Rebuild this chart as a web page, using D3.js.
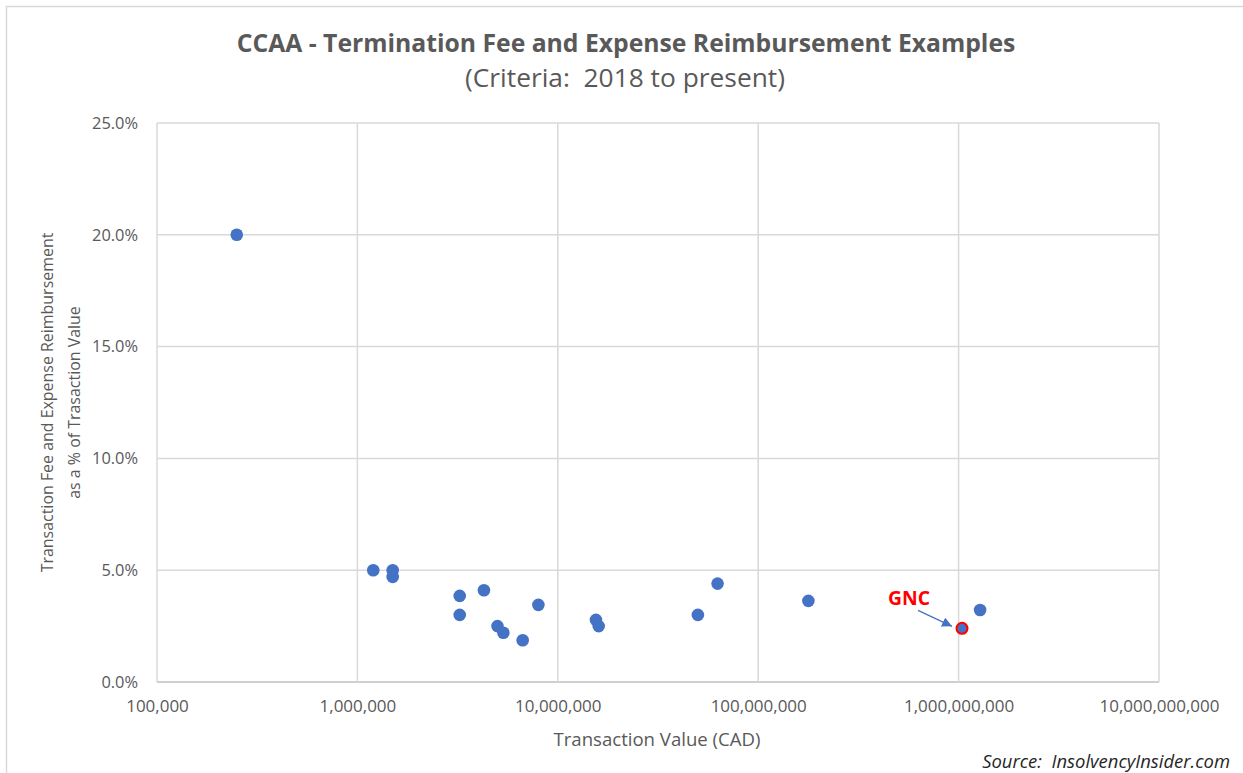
<!DOCTYPE html>
<html>
<head>
<meta charset="utf-8">
<script src="https://cdn.jsdelivr.net/npm/d3@7"></script>
<style>
  html, body { margin: 0; padding: 0; background: #ffffff; }
  svg text { font-family: "Open Sans", Lato, sans-serif; white-space: pre; }
</style>
</head>
<body>
<div id="chart"></div>
<script>
// Transaction values (CAD) and fee + expense reimbursement as % of value
var dealValues = [250000, 1200000, 1500000, 1500000, 3240000, 3240000, 4280000, 5000000, 5350000,
                  6680000, 8000000, 15500000, 16000000, 50000000, 62700000, 178000000, 1040000000, 1280000000];
var feePercents = [20.0, 5.0, 5.0, 4.7, 3.85, 3.0, 4.1, 2.5, 2.2,
                   1.87, 3.45, 2.78, 2.5, 3.0, 4.4, 3.63, 2.4, 3.22];
var dealLabels = ["", "", "", "", "", "", "", "", "", "", "", "", "", "", "", "", "GNC", ""];

var xTickValues = [1e5, 1e6, 1e7, 1e8, 1e9, 1e10];
var yTickValues = [0, 5, 10, 15, 20, 25];

var titleText = "CCAA - Termination Fee and Expense Reimbursement Examples";
var subtitleText = "(Criteria:  2018 to present)";
var xTitle = "Transaction Value (CAD)";
var yTitleLines = ["Transaction Fee and Expense Reimbursement", "as a % of Trasaction Value"];
var sourceText = "Source:  InsolvencyInsider.com";

// Margin conventions
var totalWidth = 1243, totalHeight = 773;
var margin = {top: 123, right: 84, bottom: 91, left: 157};
var width = totalWidth - margin.left - margin.right,
    height = totalHeight - margin.top - margin.bottom;

var blue = "#4472c4", gridColor = "#d9d9d9", textColor = "#595959";

// scales a font size so the measured node comes out at the wanted width
function fitFont(sel, node, wanted) {
  var size = parseFloat(sel.style("font-size"));
  var len = node.getComputedTextLength();
  sel.style("font-size", (size * wanted / len).toFixed(2) + "px");
}

var svg = d3.select("#chart")
            .append("svg")
            .attr("width", totalWidth)
            .attr("height", totalHeight);

// chart frame (only top and left edges are visible in the crop)
svg.append("path")
   .attr("d", "M6.5," + totalHeight + "V6.5H" + totalWidth)
   .attr("fill", "none")
   .attr("stroke", gridColor)
   .attr("stroke-width", 1.5);

var g = svg.append("g")
           .attr("transform", "translate(" + margin.left + "," + margin.top + ")");

var xScale = d3.scaleLog()
  .domain([xTickValues[0], xTickValues[xTickValues.length - 1]])
  .range([0, width]);

var yScale = d3.scaleLinear()
  .domain([0, 25])
  .range([height, 0]);

// Gridlines
g.append("g")
 .attr("class", "y grid")
 .selectAll("line")
 .data(yTickValues)
 .enter()
 .append("line")
 .attr("x1", 0)
 .attr("x2", width)
 .attr("y1", function(d) { return yScale(d); })
 .attr("y2", function(d) { return yScale(d); })
 .style("stroke", function(d) { return d === 0 ? "#bfbfbf" : gridColor; })
 .style("stroke-width", 1.5);

g.append("g")
 .attr("class", "x grid")
 .selectAll("line")
 .data(xTickValues)
 .enter()
 .append("line")
 .attr("x1", function(d) { return xScale(d); })
 .attr("x2", function(d) { return xScale(d); })
 .attr("y1", 0)
 .attr("y2", height)
 .style("stroke", gridColor)
 .style("stroke-width", 1.5);

// Axes (labels only, Excel style)
var xAxis = d3.axisBottom(xScale)
  .tickValues(xTickValues)
  .tickSize(0)
  .tickPadding(18)
  .tickFormat(d3.format(","));

var yAxis = d3.axisLeft(yScale)
  .tickValues(yTickValues)
  .tickSize(0)
  .tickPadding(19)
  .tickFormat(function(d) { return d3.format(".1f")(d) + "%"; });

var xAxisGroup = g.append("g")
  .attr("class", "x axis")
  .attr("transform", "translate(0," + height + ")")
  .call(xAxis);

var yAxisGroup = g.append("g")
  .attr("class", "y axis")
  .call(yAxis);

[xAxisGroup, yAxisGroup].forEach(function(ax) {
  ax.select(".domain").remove();
  ax.selectAll("text")
    .attr("fill", textColor)
    .style("font-family", "'Open Sans', sans-serif")
    .style("font-size", "16px");
});
var xLabels = xAxisGroup.selectAll("text");
fitFont(xLabels, xLabels.nodes()[xLabels.size() - 1], 120);
var yLabels = yAxisGroup.selectAll("text");
fitFont(yLabels, yLabels.nodes()[yLabels.size() - 1], 46);

// Points
var points = dealValues.map(function(v, i) {
  return {value: v, pct: feePercents[i], label: dealLabels[i]};
});

g.selectAll("circle.deal")
 .data(points)
 .enter()
 .append("circle")
 .attr("class", "deal")
 .attr("cx", function(d) { return xScale(d.value); })
 .attr("cy", function(d) { return yScale(d.pct); })
 .attr("r", function(d) { return d.label ? 5.5 : 6.3; })
 .style("fill", blue)
 .style("stroke", function(d) { return d.label ? "#ff0000" : "none"; })
 .style("stroke-width", 2);

// GNC callout
svg.append("defs")
   .append("marker")
   .attr("id", "arrowhead")
   .attr("viewBox", "0 0 10 10")
   .attr("refX", 10)
   .attr("refY", 5)
   .attr("markerWidth", 10)
   .attr("markerHeight", 10)
   .attr("markerUnits", "userSpaceOnUse")
   .attr("orient", "auto")
   .append("path")
   .attr("d", "M0,0L10,5L0,10Z")
   .attr("fill", blue);

var called = points.filter(function(d) { return d.label; });

g.selectAll("line.callout")
 .data(called)
 .enter()
 .append("line")
 .attr("class", "callout")
 .attr("x1", function(d) { return xScale(d.value) - 44; })
 .attr("y1", function(d) { return yScale(d.pct) - 18; })
 .attr("x2", function(d) { return xScale(d.value) - 10; })
 .attr("y2", function(d) { return yScale(d.pct) - 2; })
 .style("stroke", blue)
 .style("stroke-width", 1.2)
 .attr("marker-end", "url(#arrowhead)");

var calloutText = g.selectAll("text.callout")
 .data(called)
 .enter()
 .append("text")
 .attr("class", "callout")
 .attr("x", function(d) { return xScale(d.value) - 53; })
 .attr("y", function(d) { return yScale(d.pct) - 23; })
 .attr("text-anchor", "middle")
 .attr("fill", "#ff0000")
 .style("font-size", "19px")
 .style("font-weight", "bold")
 .text(function(d) { return d.label; });
fitFont(calloutText, calloutText.node(), 42);

// Titles
var title = svg.append("text")
   .attr("x", 626)
   .attr("y", 52)
   .attr("text-anchor", "middle")
   .attr("fill", textColor)
   .style("font-size", "24px")
   .style("font-weight", "bold")
   .text(titleText);
fitFont(title, title.node(), 779);

var subtitle = svg.append("text")
   .attr("x", 625)
   .attr("y", 87)
   .attr("text-anchor", "middle")
   .attr("fill", textColor)
   .style("font-size", "22px")
   .text(subtitleText);
fitFont(subtitle, subtitle.node(), 320);

var xTitleText = svg.append("text")
   .attr("x", 657)
   .attr("y", 746)
   .attr("text-anchor", "middle")
   .attr("fill", textColor)
   .style("font-size", "17px")
   .text(xTitle);
fitFont(xTitleText, xTitleText.node(), 207);

var yTitle = svg.append("text")
   .attr("transform", "translate(47," + (margin.top + height / 2) + ") rotate(-90)")
   .attr("text-anchor", "middle")
   .attr("fill", textColor)
   .style("font-size", "17px");

yTitle.selectAll("tspan")
  .data(yTitleLines)
  .enter()
  .append("tspan")
  .attr("x", 0)
  .attr("y", function(d, i) { return 6 + i * 27; })
  .text(function(d) { return d; });
fitFont(yTitle, yTitle.select("tspan").node(), 340);

var source = svg.append("text")
   .attr("x", 1230)
   .attr("y", 768)
   .attr("text-anchor", "end")
   .attr("fill", "#262626")
   .style("font-size", "18px")
   .style("font-style", "italic")
   .text(sourceText);
fitFont(source, source.node(), 248);
</script>
</body>
</html>
